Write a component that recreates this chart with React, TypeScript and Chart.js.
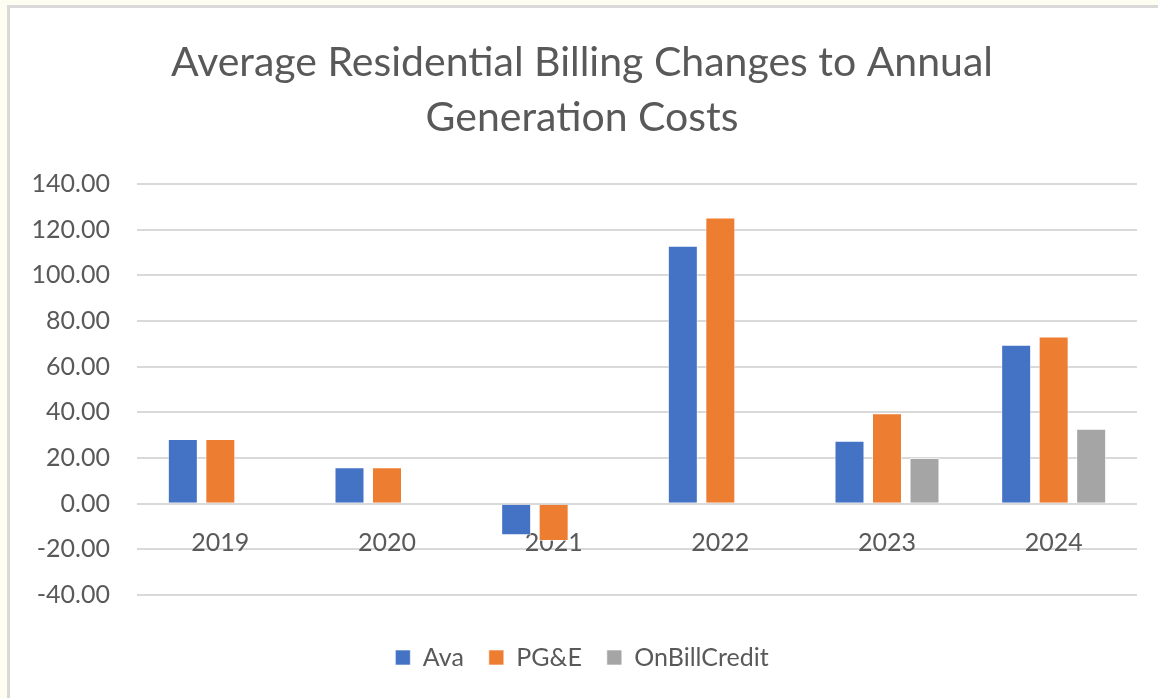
import React, { useEffect, useRef } from "react";
import { Chart, registerables } from "chart.js";

Chart.register(...registerables);

const categories = ["2019", "2020", "2021", "2022", "2023", "2024"];
const avaValues = [28.3, 16.0, -13.8, 113.0, 27.6, 69.6];
const pgeValues = [28.3, 16.0, -16.3, 125.3, 39.6, 73.2];
const onBillCreditValues = [null, null, null, null, 20.0, 32.8];
const titleLines = ["Average Residential Billing Changes to Annual", "Generation Costs"];

const FONT = "Lato, 'Open Sans', sans-serif";
const TEXT = "#595959";

const backgroundPlugin = {
  id: "bgFrame",
  beforeDraw(chart: any) {
    const { ctx, width, height } = chart;
    ctx.save();
    ctx.fillStyle = "#FEFDF1";
    ctx.fillRect(0, 0, width, height);
    ctx.fillStyle = "#D9D9D9";
    ctx.fillRect(7, 5, width - 7, height - 5);
    ctx.fillStyle = "#FFFFFF";
    ctx.fillRect(10, 8, width - 10, height - 8);
    ctx.restore();
  },
};

export default function App() {
  const ref = useRef<HTMLCanvasElement | null>(null);

  useEffect(() => {
    document.body.style.margin = "0";
    const canvas = ref.current;
    if (!canvas) return;
    const chart = new Chart(canvas, {
      type: "bar",
      data: {
        labels: categories,
        datasets: [
          { label: "Ava", data: avaValues, backgroundColor: "#4472C4", borderColor: "rgba(255,255,255,0.6)", borderWidth: 1 },
          { label: "PG&E", data: pgeValues, backgroundColor: "#ED7D31", borderColor: "rgba(255,255,255,0.6)", borderWidth: 1 },
          { label: "OnBillCredit", data: onBillCreditValues as any, backgroundColor: "#A5A5A5", borderColor: "rgba(255,255,255,0.6)", borderWidth: 1 },
        ],
      },
      options: {
        animation: false,
        responsive: false,
        maintainAspectRatio: false,
        layout: { padding: { left: 27, right: 21, top: 0, bottom: 18 } },
        datasets: { bar: { categoryPercentage: 0.675, barPercentage: 0.8 } } as any,
        scales: {
          x: {
            position: { y: 0 } as any,
            grid: { display: false, drawTicks: false },
            border: { display: false },
            ticks: { color: TEXT, font: { family: FONT, size: 25 }, padding: 24, maxRotation: 0 },
          },
          spacer: {
            type: "category",
            position: "bottom",
            grid: { display: false, drawTicks: false },
            border: { display: false },
            ticks: { display: false },
            afterFit: (scale: any) => { scale.height = 25; },
          } as any,
          y: {
            min: -40,
            max: 140,
            afterFit: (scale: any) => { scale.width = 110; },
            grid: { color: "#D9D9D9", lineWidth: 2, drawTicks: false },
            border: { display: false },
            ticks: {
              stepSize: 20,
              color: TEXT,
              padding: 27,
              font: { family: FONT, size: 25 },
              callback: (v: any) => Number(v).toFixed(2),
            },
          },
        },
        plugins: {
          title: {
            display: true,
            text: titleLines,
            color: TEXT,
            font: { family: FONT, size: 41, weight: "normal", lineHeight: 55 / 41 },
            padding: { top: 35, bottom: 39 },
          },
          legend: {
            position: "bottom",
            labels: {
              color: TEXT,
              font: { family: FONT, size: 25 },
              boxWidth: 15,
              boxHeight: 15,
              padding: 25,
            },
          },
          tooltip: { enabled: false },
        },
      },
      plugins: [backgroundPlugin],
    });
    return () => chart.destroy();
  }, []);

  return (
    <div style={{ position: "fixed", left: 0, top: 0, width: 1158, height: 698 }}>
      <canvas ref={ref} width={1158} height={698} style={{ display: "block" }} />
    </div>
  );
}
